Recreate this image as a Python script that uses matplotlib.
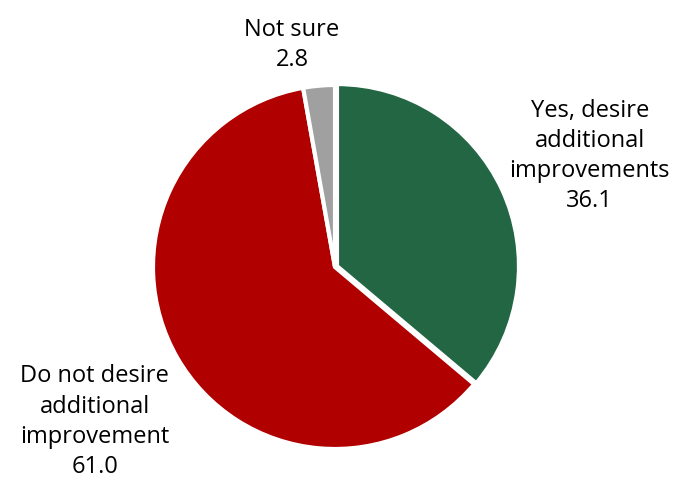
import matplotlib.pyplot as plt

categories = ["Yes, desire\nadditional\nimprovements", "Do not desire\nadditional\nimprovement", "Not sure"]
values = [36.1, 61.0, 2.8]
colors = ["#226644", "#b00000", "#a0a0a0"]

# label anchor points in units of the pie radius
label_pos = [(1.40, 0.61), (-1.32, -0.85), (-0.236, 1.22)]

plt.rcParams['font.family'] = ['Open Sans', 'DejaVu Sans']

fig = plt.figure(figsize=(6.76, 4.83), dpi=100)
cx, cy, r = 335, 267, 182
ax = fig.add_axes([(cx - r) / 676, 1 - (cy + r) / 483, 2 * r / 676, 2 * r / 483])

ax.pie(values, colors=colors, startangle=90, counterclock=False, radius=1,
       explode=[0.012, 0, 0],
       wedgeprops=dict(edgecolor="white", linewidth=3))
ax.set_xlim(-1, 1)
ax.set_ylim(-1, 1)
ax.set_aspect("equal")
ax.axis("off")

for name, val, (x, y) in zip(categories, values, label_pos):
    ax.text(x, y, f"{name}\n{val:.1f}", ha="center", va="center",
            fontsize=17, linespacing=1.35, color="black", clip_on=False)

fig.savefig("out.png", dpi=100)
